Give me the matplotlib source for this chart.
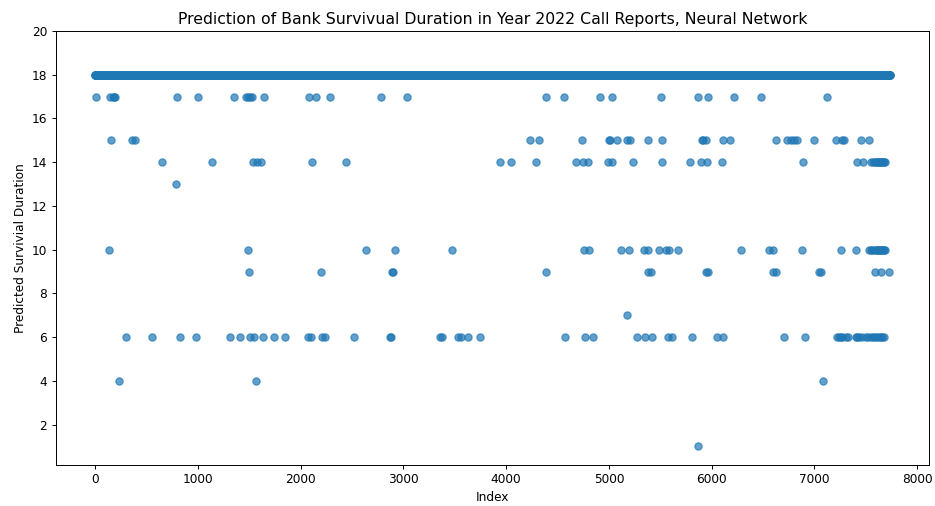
import numpy as np
import matplotlib
matplotlib.use('Agg')
import matplotlib.pyplot as plt

# number of banks (index runs 0..n_banks-1); most predictions are 18
n_banks = 7735
base_value = 18

# indices of banks whose predicted duration differs from the base value
idx_17 = [5, 146, 168, 180, 194, 794, 997, 1351, 1465, 1487, 1510, 1529, 1642,
          2080, 2151, 2281, 2783, 3039, 4383, 4566, 4914, 5028, 5503, 5870,
          5964, 6220, 6482, 7124]
idx_15 = [152, 355, 385, 4234, 4315, 4738, 4998, 5011, 5077, 5173, 5206, 5381,
          5514, 5902, 5918, 5941, 6106, 6177, 6624, 6738, 6770, 6800, 6834,
          6994, 7207, 7266, 7289, 7451, 7532]
idx_14 = [648, 1140, 1539, 1575, 1613, 2106, 2437, 3936, 4043, 4292, 4681,
          4743, 4795, 4989, 5034, 5238, 5520, 5790, 5897, 5951, 6099, 6887,
          7418, 7476, 7555, 7571, 7586, 7601, 7611, 7621, 7631, 7641, 7651,
          7661, 7671, 7681, 7691]
idx_13 = [784]
idx_10 = [136, 1484, 2640, 2922, 3470, 4762, 4811, 5120, 5200, 5345, 5384,
          5484, 5556, 5581, 5669, 6285, 6560, 6602, 6877, 7262, 7404, 7535,
          7550, 7565, 7580, 7596, 7606, 7616, 7626, 7636, 7646, 7656, 7666,
          7676, 7692]
idx_9 = [1494, 2196, 2885, 2900, 4389, 5378, 5410, 5947, 5960, 6599, 6630,
         7045, 7060, 7587, 7644, 7726]
idx_7 = [5177]
idx_6 = [298, 554, 829, 985, 1312, 1406, 1506, 1545, 1633, 1743, 1850, 2073,
         2099, 2203, 2235, 2520, 2867, 2883, 3355, 3380, 3528, 3560, 3628,
         3744, 4576, 4770, 4843, 5274, 5352, 5416, 5572, 5614, 5805, 6048,
         6113, 6703, 6905, 7224, 7240, 7257, 7273, 7305, 7330, 7402, 7419,
         7434, 7460, 7499, 7520, 7548, 7570, 7590, 7612, 7630, 7647, 7660,
         7677]
idx_4 = [227, 1568, 7088]
idx_1 = [5864]

pred = np.full(n_banks, base_value)
for val, idx in [(17, idx_17), (15, idx_15), (14, idx_14), (13, idx_13),
                 (10, idx_10), (9, idx_9), (7, idx_7), (6, idx_6),
                 (4, idx_4), (1, idx_1)]:
    pred[idx] = val

fig = plt.figure(figsize=(935 / 87, 506 / 87), dpi=87)
ax = fig.add_subplot(111)
fig.subplots_adjust(left=0.0594, right=0.9941, bottom=0.081, top=0.9387)

ax.scatter(np.arange(n_banks), pred, alpha=0.7)
ax.set_ylim(top=20)
ax.set_yticks(np.arange(2, 21, 2))
ax.set_title('Prediction of Bank Survivual Duration in Year 2022 Call Reports, Neural Network',
             fontsize=13)
ax.set_xlabel('Index')
ax.set_ylabel('Predicted Survivial Duration')

fig.savefig('out.png', dpi=87)
